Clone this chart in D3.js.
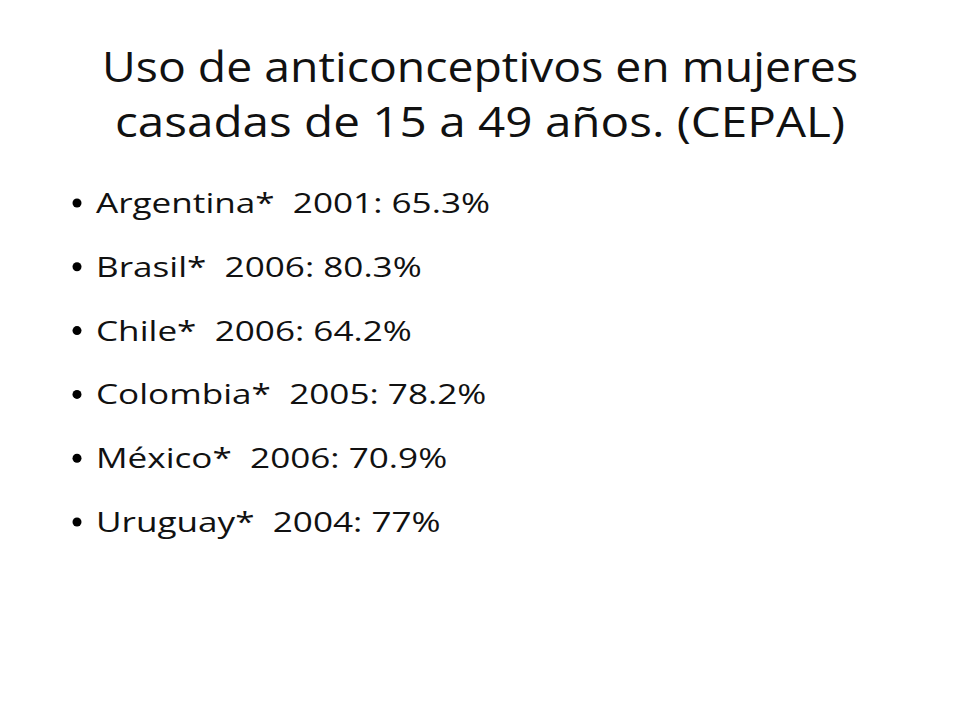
<!DOCTYPE html>
<html><head><meta charset="utf-8">
<script src="https://cdn.jsdelivr.net/npm/d3@7"></script>
<style>body{margin:0;background:#fff}</style>
</head><body>
<script>
const titleLines = ["Uso de anticonceptivos en mujeres", "casadas de 15 a 49 años. (CEPAL)"];
const countries = ["Argentina*", "Brasil*", "Chile*", "Colombia*", "México*", "Uruguay*"];
const years = [2001, 2006, 2006, 2005, 2006, 2004];
const values = ["65.3%", "80.3%", "64.2%", "78.2%", "70.9%", "77%"];

const svg = d3.select("body").append("svg").attr("width", 960).attr("height", 720);
svg.append("rect").attr("width", 960).attr("height", 720).attr("fill", "#fff");
const font = "'Open Sans', sans-serif";

svg.selectAll("text.title").data(titleLines).enter().append("text")
  .attr("x", 480).attr("y", (d, i) => 82 + i * 55)
  .attr("text-anchor", "middle").attr("font-family", font)
  .attr("font-size", 42).attr("fill", "#111").text(d => d)
  .attr("textLength", (d, i) => i === 0 ? 756 : 730).attr("lengthAdjust", "spacingAndGlyphs");

const y = d3.scalePoint().domain(d3.range(countries.length)).range([213, 532]);
const g = svg.selectAll("g.item").data(countries).enter().append("g")
  .attr("transform", (d, i) => `translate(0,${y(i)})`);
g.append("circle").attr("cx", 77).attr("cy", -10).attr("r", 4.5).attr("fill", "#000");
const t = g.append("text").attr("x", 96).attr("font-family", font).attr("font-size", 28)
  .attr("fill", "#111").attr("xml:space", "preserve")
  .text((d, i) => `${d}  ${years[i]}: ${values[i]}`);
// scale so first line matches reference width (~394px)
const w0 = t.nodes()[0].getComputedTextLength();
const k = 394 / w0;
t.each(function () {
  const w = this.getComputedTextLength();
  d3.select(this).attr("textLength", w * k).attr("lengthAdjust", "spacingAndGlyphs");
});
</script>
</body></html>
